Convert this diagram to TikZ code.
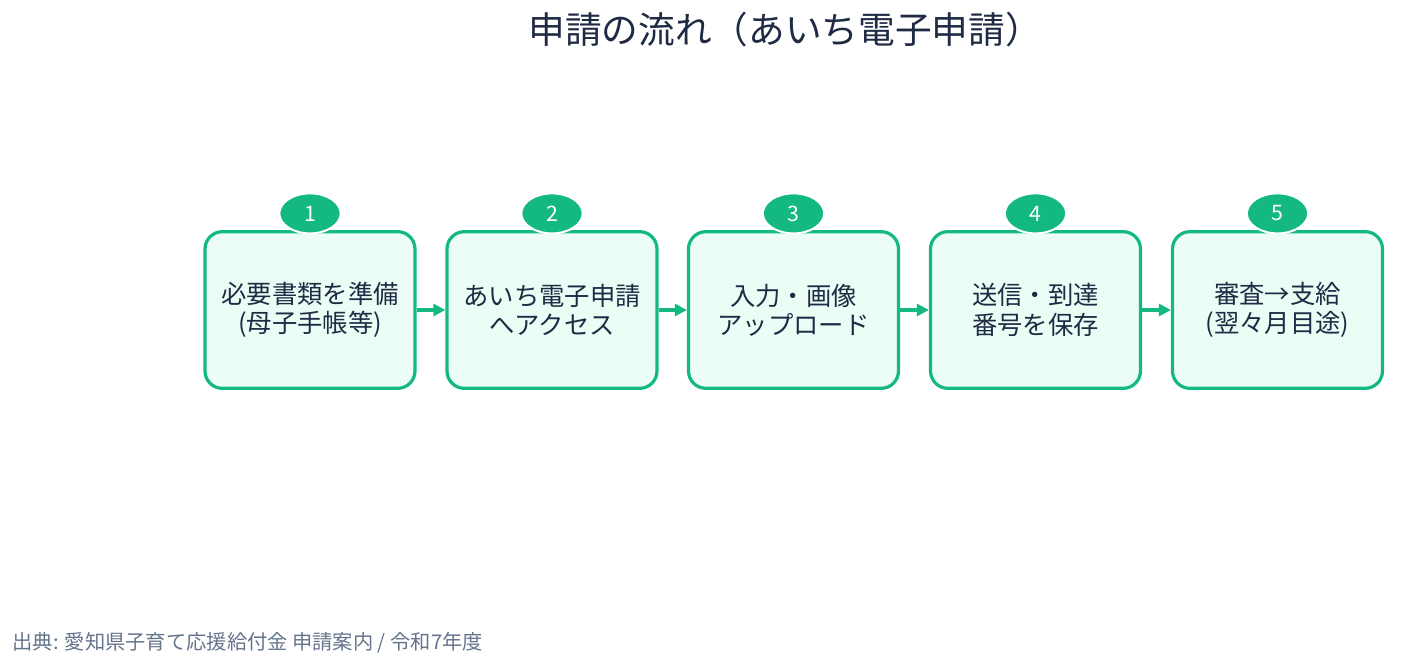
\documentclass[tikz,border=0pt]{standalone}
\usepackage{fontspec}
\setmainfont{Noto Sans CJK JP}
\usetikzlibrary{arrows.meta,shapes.geometric}
\definecolor{stepgreen}{HTML}{14B981}
\definecolor{stepfill}{HTML}{ECFDF5}
\definecolor{inkblue}{HTML}{1F2A44}
\definecolor{notegray}{HTML}{64748B}
\begin{document}
\begin{tikzpicture}[x=0.75pt, y=-0.75pt,
  stepbox/.style={draw=stepgreen, line width=2.4pt, fill=stepfill, rounded corners=13pt,
    minimum width=157.5pt, minimum height=117.5pt, align=center, text=inkblue,
    font=\fontsize{19}{22}\selectfont},
  badge/.style={ellipse, draw=white, line width=1.5pt, fill=stepgreen, text=white,
    minimum width=46pt, minimum height=30pt, inner sep=0pt, font=\fontsize{16}{18}\selectfont},
  flow/.style={-{Triangle[length=9pt,width=9pt]}, draw=stepgreen, line width=2.3pt}]
  \useasboundingbox (0,0) rectangle (1411,670);
  % Titel
  \node[text=inkblue, font=\fontsize{27.5}{32}\selectfont] (title) at (785,30) {申請の流れ（あいち電子申請）};
  % Schritte
  \node[stepbox] (box1) at (310,310) {必要書類を準備\\(母子手帳等)};
  \node[stepbox] (box2) at (552,310) {あいち電子申請\\へアクセス};
  \node[stepbox] (box3) at (793.5,310) {入力・画像\\アップロード};
  \node[stepbox] (box4) at (1035.5,310) {送信・到達\\番号を保存};
  \node[stepbox] (box5) at (1277.5,310) {審査→支給\\(翌々月目途)};
  % Pfeile zwischen den Schritten
  \draw[flow] (box1.east) -- (box2.west);
  \draw[flow] (box2.east) -- (box3.west);
  \draw[flow] (box3.east) -- (box4.west);
  \draw[flow] (box4.east) -- (box5.west);
  % Nummern
  \node[badge] (badge1) at (box1.north) [yshift=12.5pt] {1};
  \node[badge] (badge2) at (box2.north) [yshift=12.5pt] {2};
  \node[badge] (badge3) at (box3.north) [yshift=12.5pt] {3};
  \node[badge] (badge4) at (box4.north) [yshift=12.5pt] {4};
  \node[badge] (badge5) at (box5.north) [yshift=12.5pt] {5};
  % Quelle
  \node[anchor=west, text=notegray, font=\fontsize{15.2}{18}\selectfont] (source) at (8,643) {出典: 愛知県子育て応援給付金 申請案内 / 令和7年度};
\end{tikzpicture}
\end{document}
